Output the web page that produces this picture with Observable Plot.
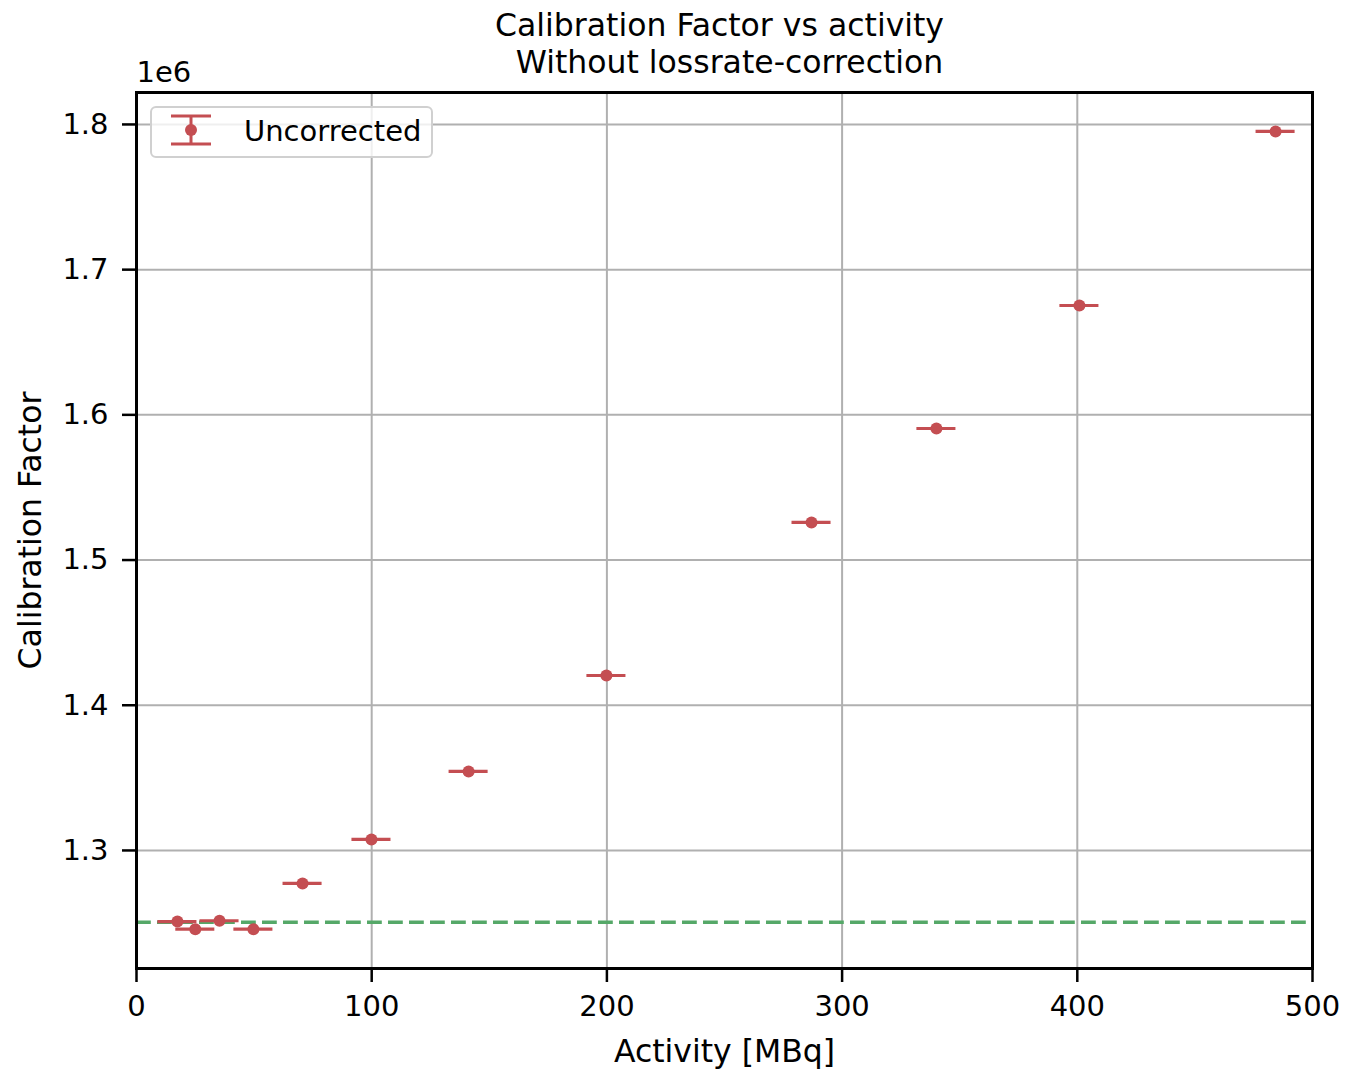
<!DOCTYPE html>
<html>
<head>
<meta charset="utf-8">
<script src="https://cdn.jsdelivr.net/npm/d3@7"></script>
<script src="https://cdn.jsdelivr.net/npm/@observablehq/plot@0.6"></script>
<style>
  html, body { margin: 0; padding: 0; background: #fff; }
  #chart { width: 1346px; height: 1072px; }
</style>
</head>
<body>
<div id="chart"></div>
<script>
const activity = [17.4, 25.0, 35.3, 49.7, 70.6, 99.9, 141.2, 199.8, 287.0, 340.1, 400.9, 484.3];
const calib = [1.2510e6, 1.2458e6, 1.2516e6, 1.2458e6, 1.2773e6, 1.3076e6, 1.3544e6, 1.4205e6, 1.5259e6, 1.5906e6, 1.6753e6, 1.7952e6];
const activityErr = [8.3, 8.3, 8.3, 8.3, 8.3, 8.3, 8.3, 8.3, 8.3, 8.3, 8.3, 8.3];
const reference = [1.2505e6];
const xTicks = [0, 100, 200, 300, 400, 500];
const yTicks = [1.3e6, 1.4e6, 1.5e6, 1.6e6, 1.7e6, 1.8e6];
const titleLines = ["Calibration Factor vs activity", "Without lossrate-correction"];
const seriesName = "Uncorrected";

const data = activity.map((a, i) => ({x: a, y: calib[i], e: activityErr[i]}));

const RED = "#c44e52";
const GREEN = "#55a868";
const FONT = "DejaVu Sans, sans-serif";
const TICK_FS = 29;
const LABEL_FS = 31.5;
const LEGEND_FS = 29;

const plot = Plot.plot({
  width: 1346,
  height: 1072,
  marginLeft: 136,
  marginRight: 34,
  marginTop: 92,
  marginBottom: 104,
  style: {fontFamily: FONT, fontSize: TICK_FS + "px", background: "#fff", color: "#000"},
  x: {domain: [0, 500]},
  y: {domain: [1.2187e6, 1.822e6]},
  marks: [
    Plot.gridX(xTicks, {stroke: "#b0b0b0", strokeOpacity: 1, strokeWidth: 2}),
    Plot.gridY(yTicks, {stroke: "#b0b0b0", strokeOpacity: 1, strokeWidth: 2}),
    Plot.ruleY(reference, {stroke: GREEN, strokeWidth: 3.5, strokeDasharray: "14.8,6.2"}),
    Plot.ruleY(data, {y: "y", x1: d => d.x - d.e, x2: d => d.x + d.e, stroke: RED, strokeWidth: 3.2}),
    Plot.dot(data, {x: "x", y: "y", r: 6, fill: RED, stroke: "none"}),
    Plot.axisX(xTicks, {tickSize: 14, tickPadding: 13, strokeWidth: 2.5, fontSize: TICK_FS, label: null, tickFormat: d => String(d)}),
    Plot.axisY(yTicks, {tickSize: 14, tickPadding: 14, strokeWidth: 2.5, fontSize: TICK_FS, label: null, tickFormat: d => (d / 1e6).toFixed(1)}),
    Plot.frame({stroke: "#000", strokeWidth: 3}),
    Plot.text(["Activity [MBq]"], {frameAnchor: "bottom", dy: 83, fontSize: LABEL_FS, lineAnchor: "middle", fill: "#000"}),
    Plot.text(["Calibration Factor"], {frameAnchor: "left", dx: -106, rotate: -90, fontSize: LABEL_FS, lineAnchor: "middle", textAnchor: "middle", fill: "#000"}),
    Plot.text([titleLines[0]], {frameAnchor: "top", dx: -5, dy: -67, fontSize: LABEL_FS, lineAnchor: "middle", fill: "#000"}),
    Plot.text([titleLines[1]], {frameAnchor: "top", dx: 5, dy: -30, fontSize: LABEL_FS, lineAnchor: "middle", fill: "#000"}),
    Plot.text(["1e6"], {frameAnchor: "top-left", dx: 0, dy: -20, fontSize: TICK_FS, lineAnchor: "middle", textAnchor: "start", fill: "#000"})
  ]
});

document.getElementById("chart").appendChild(plot);

// Legend
const svg = d3.select(plot);
const lg = svg.append("g").attr("class", "legend");
lg.append("rect")
  .attr("x", 151).attr("y", 107).attr("width", 281).attr("height", 50)
  .attr("rx", 5).attr("ry", 5)
  .attr("fill", "#fff").attr("fill-opacity", 0.8)
  .attr("stroke", "#d0d0d0").attr("stroke-width", 2);
const cx = 191, cy = 130;
lg.append("line").attr("x1", cx).attr("x2", cx).attr("y1", 116).attr("y2", 144).attr("stroke", RED).attr("stroke-width", 3);
lg.append("line").attr("x1", cx - 20).attr("x2", cx + 20).attr("y1", 116).attr("y2", 116).attr("stroke", RED).attr("stroke-width", 3);
lg.append("line").attr("x1", cx - 20).attr("x2", cx + 20).attr("y1", 144).attr("y2", 144).attr("stroke", RED).attr("stroke-width", 3);
lg.append("circle").attr("cx", cx).attr("cy", cy).attr("r", 6).attr("fill", RED);
lg.append("text").attr("x", 244).attr("y", 131).attr("dy", "0.35em")
  .attr("text-anchor", "start")
  .attr("font-family", FONT).attr("font-size", LEGEND_FS).attr("fill", "#000")
  .text(seriesName);
</script>
</body>
</html>
